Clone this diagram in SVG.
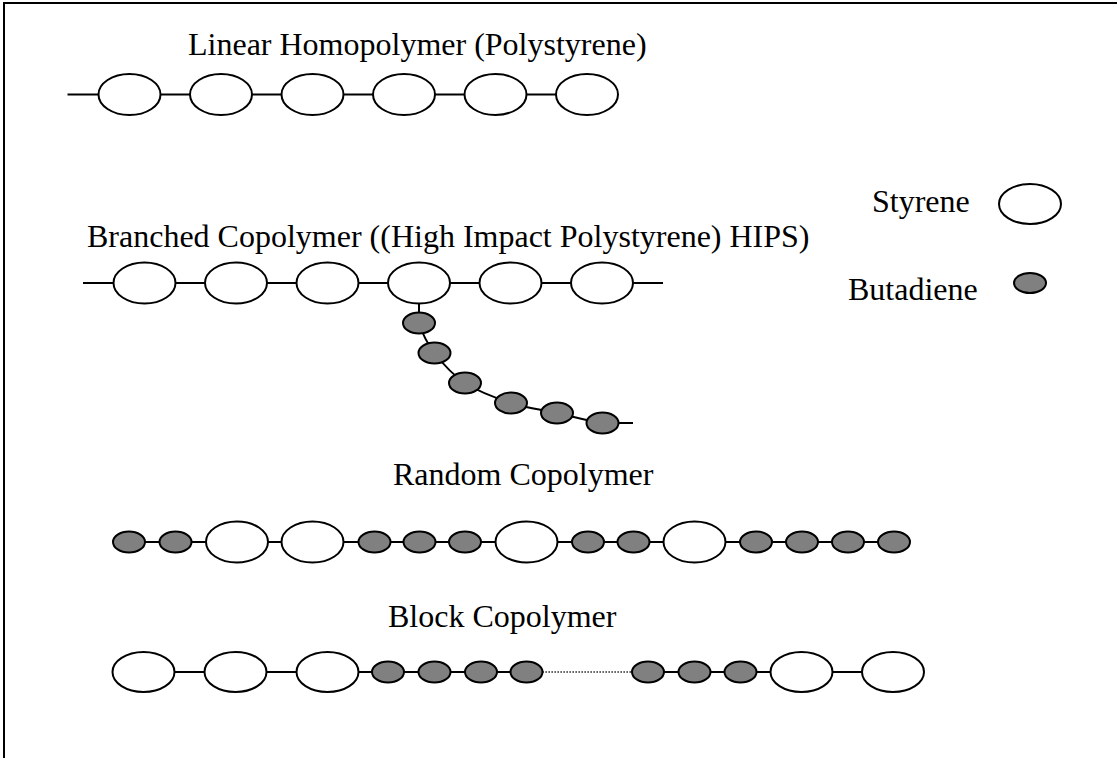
<svg xmlns="http://www.w3.org/2000/svg" width="1117" height="758" viewBox="0 0 1117 758">
  <style>
    .t { font-family: "Liberation Serif", "Times New Roman", serif; font-size: 32px; fill: #000; }
    .sty { fill: #fff; stroke: #000; stroke-width: 2; }
    .but { fill: #808080; stroke: #000; stroke-width: 2; }
    .bond { fill: none; stroke: #000; stroke-width: 2; }
    .gap { fill: none; stroke: #000; stroke-width: 1.5; stroke-dasharray: 1.3 1.7; }
  </style>
  <rect width="1117" height="758" fill="#fff"/>

  <!-- frame (top and left edges) -->
  <path d="M4,758 V3 H1117" fill="none" stroke="#000" stroke-width="2"/>

  <!-- labels -->
  <g id="labels">
    <text class="t" x="188" y="55">Linear Homopolymer (Polystyrene)</text>
    <text class="t" x="87" y="247">Branched Copolymer ((High Impact Polystyrene) HIPS)</text>
    <text class="t" x="393" y="485">Random Copolymer</text>
    <text class="t" x="388" y="627">Block Copolymer</text>
  </g>

  <!-- connectors (bonds between monomer units) -->
  <g id="connectors">
    <path class="bond" d="M67.5,94.5 H587"/>
    <path class="bond" d="M83,283 H663"/>
    <path class="bond" d="M419,303.5 L419,323 C421.6,331.3 426.8,343 434.5,353 C442.2,363 452.3,374.7 465,383 C477.8,391.3 495.7,398 511,403 C526.3,408 541.8,409.7 557,413 C572.3,416.3 589.8,421.3 602.5,423 L633,423"/>
    <path class="bond" d="M129,542 H894"/>
    <path class="bond" d="M143.5,672 H526.5 M648,672 H893"/>
    <path class="gap" d="M542.5,672 H632"/>
  </g>

  <!-- linear homopolymer -->
  <g id="linear">
    <g id="lin-s1"><ellipse class="sty" cx="129.5" cy="94.5" rx="31" ry="20.5"/></g>
    <g id="lin-s2"><ellipse class="sty" cx="221" cy="94.5" rx="31" ry="20.5"/></g>
    <g id="lin-s3"><ellipse class="sty" cx="312.5" cy="94.5" rx="31" ry="20.5"/></g>
    <g id="lin-s4"><ellipse class="sty" cx="404" cy="94.5" rx="31" ry="20.5"/></g>
    <g id="lin-s5"><ellipse class="sty" cx="495.5" cy="94.5" rx="31" ry="20.5"/></g>
    <g id="lin-s6"><ellipse class="sty" cx="587" cy="94.5" rx="31" ry="20.5"/></g>
  </g>

  <!-- branched copolymer: backbone -->
  <g id="branched">
    <g id="br-s1"><ellipse class="sty" cx="144.5" cy="283" rx="31" ry="20.5"/></g>
    <g id="br-s2"><ellipse class="sty" cx="236" cy="283" rx="31" ry="20.5"/></g>
    <g id="br-s3"><ellipse class="sty" cx="327.5" cy="283" rx="31" ry="20.5"/></g>
    <g id="br-s4"><ellipse class="sty" cx="419" cy="283" rx="31" ry="20.5"/></g>
    <g id="br-s5"><ellipse class="sty" cx="510.5" cy="283" rx="31" ry="20.5"/></g>
    <g id="br-s6"><ellipse class="sty" cx="602" cy="283" rx="31" ry="20.5"/></g>
    <!-- side chain -->
    <g id="br-b1"><ellipse class="but" cx="419" cy="323" rx="16" ry="10.5"/></g>
    <g id="br-b2"><ellipse class="but" cx="434.5" cy="353" rx="16" ry="10.5"/></g>
    <g id="br-b3"><ellipse class="but" cx="465" cy="383" rx="16" ry="10.5"/></g>
    <g id="br-b4"><ellipse class="but" cx="511" cy="403" rx="16" ry="10.5"/></g>
    <g id="br-b5"><ellipse class="but" cx="557" cy="413" rx="16" ry="10.5"/></g>
    <g id="br-b6"><ellipse class="but" cx="602.5" cy="423" rx="16" ry="10.5"/></g>
  </g>

  <!-- legend -->
  <g id="legend-styrene">
    <text class="t" x="872" y="212">Styrene</text>
    <ellipse class="sty" cx="1030" cy="204" rx="31" ry="20"/>
  </g>
  <g id="legend-butadiene">
    <text class="t" x="848" y="300">Butadiene</text>
    <ellipse class="but" cx="1030" cy="283" rx="16" ry="10"/>
  </g>

  <!-- random copolymer -->
  <g id="random">
    <g id="rn-1"><ellipse class="but" cx="129" cy="542" rx="16" ry="10.5"/></g>
    <g id="rn-2"><ellipse class="but" cx="175.5" cy="542" rx="16" ry="10.5"/></g>
    <g id="rn-3"><ellipse class="sty" cx="237" cy="542" rx="31" ry="20.5"/></g>
    <g id="rn-4"><ellipse class="sty" cx="312.5" cy="542" rx="31" ry="20.5"/></g>
    <g id="rn-5"><ellipse class="but" cx="374.5" cy="542" rx="16" ry="10.5"/></g>
    <g id="rn-6"><ellipse class="but" cx="419.5" cy="542" rx="16" ry="10.5"/></g>
    <g id="rn-7"><ellipse class="but" cx="465" cy="542" rx="16" ry="10.5"/></g>
    <g id="rn-8"><ellipse class="sty" cx="526.5" cy="542" rx="31" ry="20.5"/></g>
    <g id="rn-9"><ellipse class="but" cx="588" cy="542" rx="16" ry="10.5"/></g>
    <g id="rn-10"><ellipse class="but" cx="633.5" cy="542" rx="16" ry="10.5"/></g>
    <g id="rn-11"><ellipse class="sty" cx="694.5" cy="542" rx="31" ry="20.5"/></g>
    <g id="rn-12"><ellipse class="but" cx="756" cy="542" rx="16" ry="10.5"/></g>
    <g id="rn-13"><ellipse class="but" cx="802" cy="542" rx="16" ry="10.5"/></g>
    <g id="rn-14"><ellipse class="but" cx="848" cy="542" rx="16" ry="10.5"/></g>
    <g id="rn-15"><ellipse class="but" cx="894" cy="542" rx="16" ry="10.5"/></g>
  </g>

  <!-- block copolymer -->
  <g id="block">
    <g id="bk-1"><ellipse class="sty" cx="143.5" cy="672" rx="31" ry="20"/></g>
    <g id="bk-2"><ellipse class="sty" cx="235.5" cy="672" rx="31" ry="20"/></g>
    <g id="bk-3"><ellipse class="sty" cx="327.5" cy="672" rx="31" ry="20"/></g>
    <g id="bk-4"><ellipse class="but" cx="388" cy="672" rx="16" ry="10.5"/></g>
    <g id="bk-5"><ellipse class="but" cx="434.5" cy="672" rx="16" ry="10.5"/></g>
    <g id="bk-6"><ellipse class="but" cx="481" cy="672" rx="16" ry="10.5"/></g>
    <g id="bk-7"><ellipse class="but" cx="526.5" cy="672" rx="16" ry="10.5"/></g>
    <g id="bk-8"><ellipse class="but" cx="648" cy="672" rx="16" ry="10.5"/></g>
    <g id="bk-9"><ellipse class="but" cx="694.5" cy="672" rx="16" ry="10.5"/></g>
    <g id="bk-10"><ellipse class="but" cx="740.5" cy="672" rx="16" ry="10.5"/></g>
    <g id="bk-11"><ellipse class="sty" cx="801.5" cy="672" rx="31" ry="20"/></g>
    <g id="bk-12"><ellipse class="sty" cx="893" cy="672" rx="31" ry="20"/></g>
  </g>
</svg>
